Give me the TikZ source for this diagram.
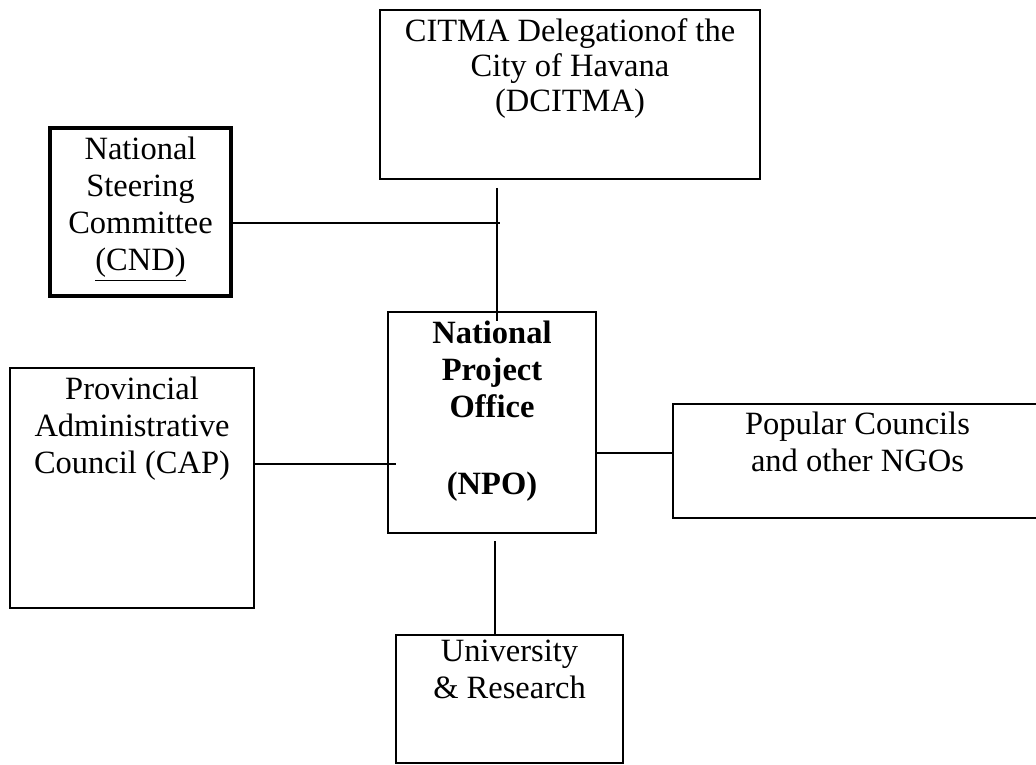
\documentclass[tikz,border=0pt]{standalone}
\usepackage{fontspec}
\setmainfont{Liberation Serif}
\usetikzlibrary{positioning,fit}
\tikzset{
	box/.style={draw, line width=1pt, inner sep=0pt},
	thickbox/.style={box, line width=1.7pt},
	txt/.style={inner sep=0pt, align=center, font=\fontsize{16.25}{18.5}\selectfont},
	link/.style={line width=0.9pt},
}
\begin{document}
\begin{tikzpicture}[x=0.5pt,y=-0.5pt]
		\useasboundingbox (0,0) rectangle (1036,764);
		% boxes
		\node[box, fit={(380,10) (760,179)}] (dcitma) {};
		\node[thickbox, fit={(50,128) (231,296)}] (cnd) {};
		\node[box, fit={(10,368) (254,608)}] (cap) {};
		\node[box, fit={(388,312) (596,533)}] (npo) {};
		\node[box, fit={(673,404) (1042,518)}] (pop) {};
		\node[box, fit={(396,635) (623,763)}] (univ) {};
		% texts
		\node[txt, font=\fontsize{16.25}{17.5}\selectfont, below=4.5pt of dcitma.north] (dcitmatxt) {CITMA Delegationof the\\City of Havana\\(DCITMA)};
		\node[txt, below=5pt of cnd.north] (cndtxt) {National\\Steering\\Committee\\\underline{(CND)}};
		\node[txt, below=5pt of cap.north] (captxt) {Provincial\\Administrative\\Council (CAP)};
		\node[txt, font=\fontsize{16.25}{18.5}\selectfont\bfseries, below=5pt of npo.north] (npotxt) {National\\Project\\Office\\[20pt](NPO)};
		\node[txt, below=4.5pt of pop.north] (poptxt) {Popular Councils\\and other NGOs};
		\node[txt, below=3pt of univ.north] (univtxt) {University\\\& Research};
		% connectors
		\coordinate (jtop) at (497,188);
		\coordinate (jbot) at (497,321);
		\coordinate (jcnd) at (500,223);
		\coordinate (jcap) at (396,464);
		\coordinate (jpop) at (630,453);
		\coordinate (juni) at (495,541);
		\draw[link] (jtop) -- (jbot);
		\draw[link] (cnd.east |- jcnd) -- (jcnd);
		\draw[link] (cap.east |- jcap) -- (jcap);
		\draw[link] (npo.east |- jpop) -- (pop.west |- jpop);
		\draw[link] (juni) -- (juni |- univ.north);
	\end{tikzpicture}
\end{document}
